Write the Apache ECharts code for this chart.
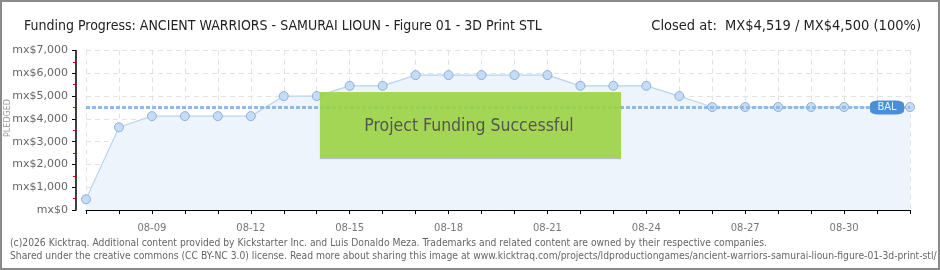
<!DOCTYPE html>
<html>
<head>
<meta charset="utf-8">
<script src="https://cdn.jsdelivr.net/npm/echarts@6/dist/echarts.min.js"></script>
<style>
html,body{margin:0;padding:0;background:#fff;}
#chart{width:940px;height:270px;}
</style>
</head>
<body>
<div id="chart"></div>
<script>
// ---- data ----
const titleText = 'Funding Progress: ANCIENT WARRIORS - SAMURAI LIOUN - Figure 01 - 3D Print STL';
const closedText = 'Closed at:  MX$4,519 / MX$4,500 (100%)';
const dates = ['08-07','08-08','08-09','08-10','08-11','08-12','08-13','08-14','08-15','08-16',
               '08-17','08-18','08-19','08-20','08-21','08-22','08-23','08-24','08-25','08-26',
               '08-27','08-28','08-29','08-30','08-31','09-01'];
const pledged = [470, 3630, 4120, 4120, 4120, 4120, 5000, 5000, 5450, 5450,
                 5920, 5920, 5920, 5920, 5920, 5450, 5450, 5450, 5000, 4519,
                 4519, 4519, 4519, 4519, 4519, 4519];
const goal = 4500;
const yTicks = [0, 1000, 2000, 3000, 4000, 5000, 6000, 7000];
const balIndex = 24;
const footer1 = '(c)2026 Kicktraq. Additional content provided by Kickstarter Inc. and Luis Donaldo Meza. Trademarks and related content are owned by their respective companies.';
const footer2 = 'Shared under the creative commons (CC BY-NC 3.0) license. Read more about sharing this image at www.kicktraq.com/projects/ldproductiongames/ancient-warriors-samurai-lioun-figure-01-3d-print-stl/';

const narrow = "'DejaVu Sans Condensed','Liberation Sans Narrow',sans-serif";

const chart = echarts.init(document.getElementById('chart'), null, {renderer: 'canvas'});
const option = {
  animation: false,
  backgroundColor: '#fff',
  title: [
    {text: titleText, left: 19, top: 14,
     textStyle: {fontFamily: narrow, fontSize: 14, fontWeight: 'normal', color: '#222'}},
    {text: closedText, right: 14, top: 14,
     textStyle: {fontFamily: narrow, fontSize: 14.5, fontWeight: 'normal', color: '#222'}}
  ],
  grid: {left: 86, right: 30, top: 50.5, bottom: 60, containLabel: false, outerBoundsMode: 'none'},
  xAxis: {
    type: 'category',
    data: dates,
    boundaryGap: false,
    offset: 7,
    axisLine: {show: true, lineStyle: {color: '#000', width: 1}},
    axisTick: {show: true, interval: 0, length: 4, lineStyle: {color: '#000'}},
    axisLabel: {
      interval: function (i) { return i % 3 === 2; },
      color: '#777', fontSize: 10, fontFamily: 'DejaVu Sans', margin: 6
    },
    splitLine: {show: true, interval: 0, lineStyle: {color: '#e2e2e2', type: [5, 4]}}
  },
  yAxis: {
    type: 'value',
    min: yTicks[0], max: yTicks[yTicks.length - 1], interval: 1000,
    offset: 10,
    axisLine: {show: true, lineStyle: {color: '#000', width: 1.5}},
    axisTick: {show: true, length: 4, lineStyle: {color: '#000'}},
    minorTick: {show: true, splitNumber: 2, length: 3, lineStyle: {color: '#e00000'}},
    axisLabel: {
      color: '#666', fontSize: 11, fontFamily: 'DejaVu Sans', margin: 8,
      formatter: function (v) { return 'mx$' + v.toLocaleString('en-US'); }
    },
    splitLine: {show: true, lineStyle: {color: '#e2e2e2', type: [5, 4]}}
  },
  series: [{
    type: 'line',
    data: pledged,
    symbol: 'circle',
    symbolSize: 9,
    lineStyle: {color: '#b8d4f2', width: 1.2},
    itemStyle: {color: '#c4dcf6', borderColor: '#8eb0d8', borderWidth: 1},
    areaStyle: {color: '#edf4fc', opacity: 1},
    markLine: {
      silent: true,
      symbol: ['none', 'none'],
      label: {show: false},
      lineStyle: {color: '#8dbbea', width: 3, type: [4, 2], opacity: 1},
      data: [{yAxis: goal}]
    },
    markPoint: {
      silent: true,
      symbol: 'roundRect',
      symbolSize: [34, 14],
      symbolOffset: [10, 0],
      itemStyle: {color: '#4a8ed8'},
      label: {show: true, formatter: 'BAL', color: '#e8f2ff', fontSize: 10, fontFamily: 'DejaVu Sans', offset: [0, 0]},
      data: [{coord: [balIndex, goal]}]
    }
  }],
  graphic: [
    {type: 'text', x: 4, y: 118, rotation: Math.PI / 2, originX: 0, originY: 0,
     style: {text: 'PLEDGED', fill: '#999', fontSize: 8, fontFamily: 'DejaVu Sans', align: 'center', verticalAlign: 'top'}},
    {type: 'rect', z: 100, shape: {x: 320, y: 92, width: 301, height: 66},
     style: {fill: 'rgba(160,216,72,0.9)', stroke: null, shadowColor: 'rgba(0,0,0,0.25)', shadowOffsetY: 1, shadowBlur: 1}},
    {type: 'text', z: 101, x: 469, y: 126,
     style: {text: 'Project Funding Successful', fill: '#555', fontSize: 17.5, fontFamily: narrow,
             align: 'center', verticalAlign: 'middle', textShadowColor: '#fff', textShadowOffsetX: 1, textShadowOffsetY: 1, textShadowBlur: 0}},
    {type: 'text', x: 10, y: 243,
     style: {text: footer1, fill: '#666', fontSize: 10.25, fontFamily: narrow, verticalAlign: 'middle'}},
    {type: 'text', x: 10, y: 256,
     style: {text: footer2, fill: '#666', fontSize: 10.25, fontFamily: narrow, verticalAlign: 'middle'}},
    {type: 'rect', z: 200, shape: {x: 1, y: 1, width: 938, height: 268},
     style: {fill: null, stroke: '#8a8a8a', lineWidth: 2}}
  ]
};
chart.setOption(option);
</script>
</body>
</html>
